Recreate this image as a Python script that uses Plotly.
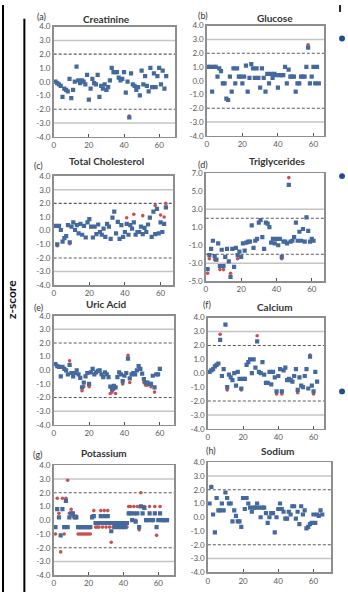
import plotly.graph_objects as go

W, H = 348, 597

# ---------------- data ----------------
X_TICKS = [0, 20, 40, 60]
Z_TICKS = [4, 3, 2, 1, 0, -1, -2, -3, -4]
TG_TICKS = [7, 5, 3, 1, -1, -3, -5]
WARN_LIMITS = [2, -2]
ACTION_LIMITS = [3, -3]

creatinine = [0.0, -0.1, -0.2, -0.3, -1.1, -0.5, -0.6, -0.7, 0.2, -1.2,
              -0.6, 0.0, 1.1, 0.1, -0.1, 0.1, 0.0, -0.2, 0.5, -1.3,
              -0.5, 0.2, -0.1, -0.2, 0.5, -1.1, -0.3, -0.5, -0.2, -0.6,
              -0.4, 0.1, 1.0, 0.7, 0.7, 0.7, 0.3, 0.1, 0.2, 0.7,
              -0.8, 0.0, -2.6, 0.6, -0.2, -0.3, -0.6, -0.4, -1.0, 0.8,
              -0.2, 0.4, -0.3, -0.7, 1.0, -0.4, 0.6, -0.4, 0.4, 1.0,
              -0.2, 0.8, -0.5, 0.4]
creatinine_red_x = [43]
creatinine_red = [-2.5]

glucose = [1.0, 1.0, -0.8, 1.0, 1.0, 0.3, 0.9, 0.7, -0.2, -0.2,
           -1.3, -1.4, 0.3, -0.8, 0.9, -0.2, 0.9, 0.3, 0.3, -0.2,
           0.3, 1.1, -0.8, 0.2, 1.2, 0.9, 0.2, 0.9, 0.2, -0.5,
           0.9, 0.2, -0.8, 0.5, -0.2, 0.5, 0.2, 0.5, 0.4, -0.5,
           0.4, 0.4, 0.4, 1.0, -0.2, 0.8, 0.3, 0.3, 0.3, -0.8,
           -0.2, -0.2, 0.3, 0.3, 0.3, 1.0, 2.4, -0.2, 0.3, 1.0,
           -0.2, 1.0, -0.2]
glucose_red_x = [57]
glucose_red = [2.6]

cholesterol = [0.35, -1.0, 0.35, 0.05, -0.8, -0.55, -0.4, 0.4, -0.85, 0.3,
               0.6, 0.05, 0.4, -0.2, 0.5, -0.3, 0.35, -0.5, 0.6, 0.85,
               0.3, -0.5, 0.3, -0.25, 0.45, -0.1, -0.3, 0.15, -0.45, 0.5,
               0.3, -0.6, 0.95, 1.4, -0.2, 0.65, -0.6, 0.4, -0.45, -0.1,
               0.5, -0.3, 0.4, 0.15, 0.6, -0.3, -0.1, -0.1, 0.3, -0.25,
               0.2, -0.1, 0.45, 0.95, -0.45, 1.4, -0.25, 1.6, -0.2, 0.6,
               -0.1, 0.5, 1.7]
cholesterol_red_x = [2, 9, 41, 45, 50, 57, 60, 62, 63]
cholesterol_red = [-1.1, -0.95, 0.95, 1.2, 1.1, 1.85, 1.15, 1.0, 2.0]

triglycerides = [-3.65, -2.1, -1.4, -0.5, -2.2, -2.6, -0.8, -3.3, -1.5, -3.3,
                 -2.3, -1.4, -2.8, -4.5, -1.4, -3.4, -1.3, -2.1, -1.7, -2.3,
                 -0.8, -1.6, -0.7, -0.6, -0.6, 1.2, -1.3, -0.5, -0.3, 1.5,
                 1.8, -0.1, -1.4, 1.5, 1.4, 1.0, -0.7, -0.3, -0.8, -0.3,
                 -1.0, -0.3, -2.3, -0.6, -0.6, -0.8, 5.7, -0.6, -0.5, -0.1,
                 1.5, -0.5, 0.5, -0.5, 0.8, -0.6, 2.1, 0.6, -0.6, -0.3,
                 -0.5]
triglycerides_red_x = [1, 2, 5, 8, 10, 14, 18, 43, 47, 57]
triglycerides_red = [-4.1, -2.5, -2.6, -3.7, -3.7, -4.1, -2.5, -2.5, 6.5, 2.1]

uric_acid = [0.45, 0.3, 0.25, -0.45, 0.25, 0.1, 0.0, -0.3, 0.4, -0.2,
             -0.45, -0.2, 0.0, -0.3, -0.55, -1.25, -0.9, -0.45, -0.2, -1.0,
             -0.15, 0.1, -0.3, -0.15, -0.05, 0.0, -0.3, -0.5, -0.15, -0.3,
             -0.5, -1.2, -1.4, -1.15, -1.25, -0.5, -0.15, -0.3, -0.8, -0.4,
             -0.2, 0.85, -0.6, -0.3, -0.2, -0.3, 0.0, 0.3, 0.1, -0.25,
             -0.65, -0.9, -0.9, -1.0, -1.0, -0.4, -1.25, -0.3, -0.3, 0.1]
uric_acid_red_x = [1, 9, 16, 17, 20, 32, 33, 34, 35, 39, 42, 43, 51, 52, 53, 55, 57]
uric_acid_red = [0.5, 0.7, -1.5, -1.2, -1.2, -1.7, -1.6, -1.4, -1.7, -1.0,
                 1.1, -0.9, -0.9, -1.1, -1.1, -1.2, -1.6]

calcium = [0.1, 0.2, 0.3, 0.5, 0.6, 0.7, 2.4, -0.2, 0.3, 3.5,
           -1.0, -0.1, -0.3, -0.5, 0.0, -0.9, 0.1, -0.4, -1.1, -0.4,
           -0.4, 0.6, 0.8, 1.0, 0.0, 1.0, 0.4, 2.3, 0.1, 0.0,
           0.8, -0.1, -0.7, -0.7, 0.1, -0.8, 0.1, -0.3, -1.3, -0.2,
           0.3, -1.3, 0.2, 0.4, -0.5, -0.4, -0.5, -0.6, -0.2, 0.3,
           -1.2, -0.3, -0.9, -1.0, -0.2, 0.3, -1.1, 1.2, -0.9, -1.3,
           0.1, -0.6]
calcium_red_x = [7, 11, 19, 28, 39, 42, 51, 58, 60]
calcium_red = [2.8, -1.2, -1.2, 2.7, -1.5, -1.5, -1.4, 1.3, -1.5]

potassium = [-0.5, 0.8, 0.2, -1.1, 0.8, -0.5, 1.4, -0.5, 0.2, 0.5,
             0.5, 0.2, 0.2, -0.5, -0.5, -0.5, -0.5, -0.5, -0.5, -0.5,
             -0.5, 0.2, 0.3, -0.2, -0.2, -0.2, 0.3, -0.2, 0.3, -0.2,
             0.3, -0.2, -0.8, -0.2, -0.5, -0.2, -0.5, -0.2, -0.5, -0.2,
             -0.5, -0.2, 0.5, 0.5, 0.0, 0.5, -0.1, 0.5, -0.5, 1.0,
             0.5, 0.9, 0.0, 0.0, 0.5, 0.0, 0.0, 0.5, -0.5, 0.0,
             0.5, 0.0, 0.0, 0.0, 0.0]
potassium_red = [-1.0, 1.6, 0.5, -2.3, 1.6, -1.0, 1.6, 2.9, 0.5, 0.8,
                 0.3, 0.3, 0.3, -1.0, -1.0, -1.0, -1.0, -1.0, -1.0, -1.0,
                 -1.0, 0.3, 0.7, -0.5, -0.5, -0.5, 0.7, -0.5, 0.7, -0.5,
                 0.7, -0.5, -1.6, -0.5, -0.5, -0.5, -0.5, -0.5, -0.5, -0.5,
                 -0.5, -0.5, 1.0, 1.0, 0.0, 1.0, 0.0, 1.0, -0.7, 2.0,
                 1.0, 1.0, 0.0, 0.0, 1.0, 0.0, 0.0, 1.0, -1.1, 0.0,
                 1.0, 0.0, 0.0, 0.0, 0.0]
potassium_red_x = list(range(1, len(potassium_red) + 1))

sodium = [1.0, 2.2, 0.2, -1.1, 1.4, 0.5, 0.5, 1.0, 0.5, 1.8,
          1.4, 1.0, 1.0, -0.3, 0.5, 0.1, -0.3, -0.3, -0.7, 1.4,
          0.6, 1.4, 1.0, 0.7, 0.4, 0.7, 0.7, 1.0, 0.7, 0.0,
          0.7, 0.7, 0.3, -0.4, 0.0, 0.3, 0.3, -1.1, 0.0, 0.6,
          1.0, 0.6, 0.4, -0.1, -0.1, 0.4, 0.2, 0.8, 0.8, -0.1,
          0.4, -0.5, 0.8, 0.2, 0.5, -0.8, -0.7, -0.5, -0.4, 0.2,
          -0.4, 0.2, 0.1, 0.5, 0.2]
sodium_red_x = [2]
sodium_red = [2.25]

# ---------------- layout / style config ----------------
BLUE = "#44699e"
RED = "#c8504f"
FRAME = "#8e8e8e"
TICKFONT = dict(family="Lato, Open Sans, sans-serif", size=8, color="#595959")

panels = [
    # title, tag, blue, red_x, red, yticks, yrange, xmax, box(l,t,r,b), title pos, tag pos
    ("Creatinine", "(a)", creatinine, creatinine_red_x, creatinine_red, Z_TICKS, (-4, 4), 69,
     (52, 22, 174, 134), (105, 14), (40, 12)),
    ("Glucose", "(b)", glucose, glucose_red_x, glucose_red, Z_TICKS, (-4, 4), 66,
     (206, 21, 324, 133), (275, 13), (202, 11)),
    ("Total Cholesterol", "(c)", cholesterol, cholesterol_red_x, cholesterol_red, Z_TICKS, (-4, 4), 67,
     (52, 174, 172, 285), (105, 159), (37, 163)),
    ("Triglycerides", "(d)", triglycerides, triglycerides_red_x, triglycerides_red, TG_TICKS, (-5, 7), 67,
     (205, 171, 324, 281), (277, 159), (202, 162)),
    ("Uric Acid", "(e)", uric_acid, uric_acid_red_x, uric_acid_red, Z_TICKS, (-4, 4), 68,
     (52, 316, 173, 427), (105, 304), (37, 308)),
    ("Calcium", "(f)", calcium, calcium_red_x, calcium_red, Z_TICKS, (-4, 4), 66,
     (207, 318, 324, 431), (275, 307), (206, 305)),
    ("Potassium", "(g)", potassium, potassium_red_x, potassium_red, Z_TICKS, (-4, 4), 69,
     (52, 468, 173, 580), (103, 456), (36, 457)),
    ("Sodium", "(h)", sodium, sodium_red_x, sodium_red, Z_TICKS, (-4, 4), 70,
     (207, 465, 331, 577), (277, 454), (210, 453)),
]

fig = go.Figure()
shapes = []
annotations = []
layout = {}

for i, (title, tag, blue, rx, ry, yticks, yr, xmax, box, tpos, gpos) in enumerate(panels, start=1):
    xa = "x" if i == 1 else f"x{i}"
    ya = "y" if i == 1 else f"y{i}"
    l, t, r, b = box
    xkey = "xaxis" if i == 1 else f"xaxis{i}"
    ykey = "yaxis" if i == 1 else f"yaxis{i}"
    layout[xkey] = dict(domain=[l / W, r / W], range=[0, xmax], anchor=ya,
                        tickvals=X_TICKS, ticktext=[str(v) for v in X_TICKS],
                        ticks="inside", ticklen=3, tickwidth=1, tickcolor="#555555",
                        showgrid=False, zeroline=False, showline=True, mirror=True,
                        linecolor=FRAME, linewidth=1.6, tickfont=TICKFONT, fixedrange=True)
    layout[ykey] = dict(domain=[1 - b / H, 1 - t / H], range=list(yr), anchor=xa,
                        tickvals=yticks, ticktext=[f"{v:.1f}" for v in yticks],
                        ticks="", showgrid=False, zeroline=False, showline=True, mirror=True,
                        linecolor=FRAME, linewidth=1.6, tickfont=TICKFONT, fixedrange=True)

    for v in ACTION_LIMITS:
        shapes.append(dict(type="line", xref=f"{xa} domain", yref=ya, x0=0, x1=1, y0=v, y1=v,
                           line=dict(color="#c4c4c4", width=1.5), layer="below"))
    for v in WARN_LIMITS:
        shapes.append(dict(type="line", xref=f"{xa} domain", yref=ya, x0=0, x1=1, y0=v, y1=v,
                           line=dict(color="#5a5a5a", width=1.1, dash="3px,2px"), layer="below"))

    if rx:
        fig.add_trace(go.Scatter(x=rx, y=ry, mode="markers", xaxis=xa, yaxis=ya,
                                 marker=dict(symbol="circle", size=3.6, color=RED),
                                 hoverinfo="skip"))
    fig.add_trace(go.Scatter(x=list(range(1, len(blue) + 1)), y=blue, mode="markers",
                             xaxis=xa, yaxis=ya,
                             marker=dict(symbol="square", size=4.2, color=BLUE),
                             hoverinfo="skip"))

    annotations.append(dict(text=title, x=tpos[0] / W, y=1 - tpos[1] / H, xref="paper", yref="paper",
                            showarrow=False, xanchor="center", yanchor="middle",
                            font=dict(family="Lato, Open Sans, sans-serif", size=10, color="#333333",
                                      weight="bold")))
    annotations.append(dict(text=tag, x=gpos[0] / W, y=1 - gpos[1] / H, xref="paper", yref="paper",
                            showarrow=False, xanchor="center", yanchor="middle",
                            font=dict(family="Lato, Open Sans, sans-serif", size=9, color="#333333")))

# y label
annotations.append(dict(text="<b>z-score</b>", x=10 / W, y=1 - 299 / H, xref="paper", yref="paper",
                        showarrow=False, textangle=-90, xanchor="center", yanchor="middle",
                        font=dict(family="Lato, Open Sans, sans-serif", size=12, color="#111111")))

# page decorations (slide border, divider, bullets)
shapes.append(dict(type="line", xref="paper", yref="paper", x0=1 / W, x1=1 / W, y0=0, y1=1,
                   line=dict(color="#000000", width=2)))
shapes.append(dict(type="line", xref="paper", yref="paper", x0=22.5 / W, x1=22.5 / W,
                   y0=0, y1=1 - 14 / H, line=dict(color="#000000", width=2)))
for by in (34, 174, 393):
    shapes.append(dict(type="circle", xref="paper", yref="paper",
                       x0=339 / W, x1=345 / W, y0=1 - (by + 3) / H, y1=1 - (by - 3) / H,
                       fillcolor="#1f4e8c", line=dict(width=0)))
shapes.append(dict(type="rect", xref="paper", yref="paper", x0=339 / W, x1=341 / W,
                   y0=1 - 7 / H, y1=1, fillcolor="#222222", line=dict(width=0)))

fig.update_layout(width=W, height=H, margin=dict(l=0, r=0, t=0, b=0),
                  paper_bgcolor="white", plot_bgcolor="white", showlegend=False,
                  hovermode=False,
                  shapes=shapes, annotations=annotations, **layout)

fig.write_html("out.html", config={"displayModeBar": False, "staticPlot": True},
               post_script="document.body.style.margin='0';document.body.style.overflow='hidden';")
